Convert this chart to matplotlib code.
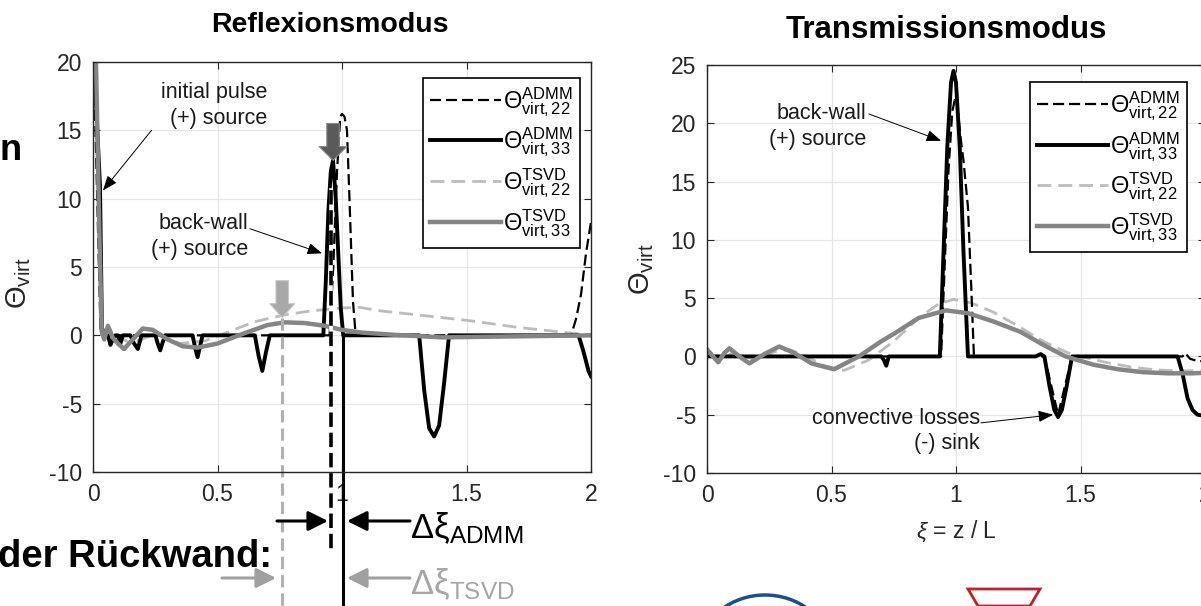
import numpy as np
import matplotlib
matplotlib.use("Agg")
import matplotlib.pyplot as plt
import matplotlib.transforms as mtransforms
from matplotlib.patches import Arc, Polygon, FancyArrowPatch

plt.rcParams['font.family'] = ['Liberation Sans', 'DejaVu Sans']
plt.rcParams['mathtext.fontset'] = 'custom'
plt.rcParams['mathtext.rm'] = 'Liberation Sans'
plt.rcParams['mathtext.it'] = 'Liberation Sans:italic'
plt.rcParams['mathtext.bf'] = 'Liberation Sans:bold'
plt.rcParams['axes.unicode_minus'] = False

# ---- Reflexionsmodus (left) ----
refl_admm33_x = [0.0, 0.004, 0.028, 0.036, 0.045, 0.06, 0.07, 0.08, 0.09, 0.10, 0.11, 0.12, 0.15, 0.165, 0.18, 0.195,
                 0.25, 0.26, 0.27, 0.28, 0.29, 0.40, 0.41, 0.42, 0.43, 0.44, 0.65, 0.665, 0.68, 0.695, 0.71,
                 0.925, 0.935, 0.945, 0.955, 0.964, 0.975, 0.985, 0.995, 1.005, 1.31, 1.33, 1.35, 1.37, 1.39, 1.41, 1.43,
                 1.95, 1.97, 1.99, 2.0]
refl_admm33_y = [20, 20, 11, 0.5, 0, 0, -0.7, -0.3, 0, 0, -0.6, 0, 0, -0.6, -1.0, 0,
                 0, -0.6, -1.1, -0.5, 0, 0, -0.9, -1.6, -0.8, 0, 0, -1.5, -2.6, -1.2, 0,
                 0, 4, 9, 12, 12.8, 10, 6, 2, 0, 0, -4, -6.8, -7.4, -6.6, -3.5, 0,
                 0, -1.2, -2.6, -3.0]
refl_admm22_x = [0.0, 0.01, 0.03, 0.04, 0.95, 0.965, 0.98, 0.993, 1.0, 1.01, 1.02, 1.03, 1.044, 1.055,
                 1.92, 1.94, 1.96, 1.98, 2.0]
refl_admm22_y = [20, 15, 0.5, 0, 0, 5, 12, 16.0, 16.2, 16.0, 15.0, 10, 2.5, 0,
                 0, 1.2, 3.0, 6.0, 8.3]
refl_tsvd22_x = [0.0, 0.01, 0.035, 0.08, 0.15, 0.25, 0.35, 0.45, 0.55, 0.65, 0.77, 0.88, 1.0, 1.07, 1.15,
                 1.3, 1.5, 1.7, 1.9, 2.0]
refl_tsvd22_y = [22, 20, 0.5, 0.2, -0.6, 0.1, -0.6, -0.4, 0.3, 1.0, 1.5, 1.8, 2.0, 2.05, 1.8,
                 1.5, 1.1, 0.6, 0.2, 0.05]
refl_tsvd33_x = [0.0, 0.005, 0.012, 0.025, 0.035, 0.045, 0.06, 0.08, 0.1, 0.125, 0.16, 0.2, 0.24, 0.3, 0.36,
                 0.42, 0.5, 0.6, 0.7, 0.77, 0.85, 0.93, 1.0, 1.08, 1.2, 1.4, 1.6, 1.8, 2.0]
refl_tsvd33_y = [22, 22, 20, 8, 0.3, -0.3, 0.7, -0.2, -0.6, -1.0, -0.3, 0.5, 0.4, -0.3, -0.8,
                 -0.9, -0.6, 0.1, 0.75, 0.95, 0.9, 0.7, 0.4, 0.2, 0.05, -0.15, -0.1, -0.05, 0.0]

# ---- Transmissionsmodus (right) ----
trans_admm33_x = [0.0, 0.70, 0.71, 0.72, 0.73, 0.935, 0.95, 0.965, 0.98, 0.99, 1.0, 1.015, 1.03, 1.048,
                  1.32, 1.34, 1.355, 1.375, 1.395, 1.41, 1.425, 1.445, 1.466, 1.89, 1.91, 1.93, 1.95, 1.97, 2.0]
trans_admm33_y = [0, 0, -0.3, -0.8, 0, 0, 9, 18, 23.5, 24.5, 23.5, 18, 9, 0,
                  0, 0.2, 0, -2.5, -4.6, -5.2, -4.6, -2.5, 0, 0, -1.5, -3.6, -4.6, -5.0, -5.1]
trans_admm22_x = [0.0, 0.94, 0.955, 0.97, 0.985, 0.995, 1.005, 1.02, 1.03, 1.048, 1.063, 1.072,
                  1.355, 1.41, 1.466, 1.91, 1.92, 1.94, 1.97, 2.0]
trans_admm22_y = [0, 0, 8, 16, 21, 22, 21.5, 18.5, 16.8, 12.8, 5, 0,
                  0, -5.0, 0, 0, 0.3, -0.2, -0.4, -0.4]
trans_tsvd22_x = [0.0, 0.03, 0.06, 0.1, 0.15, 0.2, 0.27, 0.33, 0.4, 0.47, 0.55, 0.65, 0.75, 0.85, 0.93,
                  0.99, 1.06, 1.15, 1.25, 1.35, 1.45, 1.5, 1.6, 1.7, 1.8, 1.9, 2.0]
trans_tsvd22_y = [0.3, 0.0, -0.3, 0.3, 0.0, -0.3, 0.4, 0.6, 0.0, -0.8, -1.2, -0.3, 1.3, 3.3, 4.5,
                  4.9, 4.6, 3.8, 2.6, 1.3, 0.3, 0.0, -0.5, -0.9, -1.15, -1.25, -1.2]
trans_tsvd33_x = [0.0, 0.02, 0.045, 0.07, 0.09, 0.13, 0.17, 0.23, 0.29, 0.35, 0.42, 0.51, 0.61, 0.7, 0.755,
                  0.85, 0.96, 1.05, 1.15, 1.26, 1.35, 1.44, 1.55, 1.65, 1.75, 1.85, 1.95, 2.0]
trans_tsvd33_y = [0.6, 0.1, -0.5, 0.3, 0.7, 0.0, -0.6, 0.2, 0.85, 0.3, -0.6, -1.1, 0.0, 1.3, 2.0,
                  3.3, 3.95, 3.7, 3.0, 2.1, 1.0, 0.0, -0.7, -1.1, -1.35, -1.45, -1.45, -1.4]

# back-wall positions found by the methods
xi_admm = 0.956
xi_true = 1.004
xi_tsvd = 0.76

labels = [r'$\Theta^{\rm ADMM}_{\rm virt,22}$', r'$\Theta^{\rm ADMM}_{\rm virt,33}$',
          r'$\Theta^{\rm TSVD}_{\rm virt,22}$', r'$\Theta^{\rm TSVD}_{\rm virt,33}$']

W, H = 1201, 606
fig = plt.figure(figsize=(W / 100, H / 100), dpi=100)
ax1 = fig.add_axes([93 / W, 1 - 472 / H, 498 / W, 410 / H])
ax2 = fig.add_axes([707 / W, 1 - 473 / H, 498 / W, 408 / H])

dash_blk = (5, 2.2)
dash_gry = (5, 2.5)

def draw(ax, a22, a33, t22, t33):
  ax.plot(*t22, color='#bcbcbc', lw=2.0, dashes=dash_gry, label=labels[2])
  ax.plot(*a22, color='black', lw=1.6, dashes=dash_blk, label=labels[0])
  ax.plot(*a33, color='black', lw=2.8, label=labels[1])
  ax.plot(*t33, color='#858585', lw=3.2, label=labels[3])
  ax.set_xlim(0, 2)
  ax.set_xticks([0, 0.5, 1, 1.5, 2])
  ax.set_xticklabels(['0', '0.5', '1', '1.5', '2'])
  ax.grid(True, color='#e6e6e6', lw=0.9)
  ax.tick_params(direction='in', length=5, top=True, right=True, labelsize=16.5,
                 colors='#262626', pad=8)
  for s in ax.spines.values():
    s.set_color('#262626')
    s.set_linewidth(1.0)
  ax.set_ylabel(r'$\Theta_{\rm virt}$', fontsize=21, color='#262626')
  h, l = ax.get_legend_handles_labels()
  order = [1, 2, 0, 3]
  return [h[i] for i in order], [l[i] for i in order]

h1, l1 = draw(ax1, (refl_admm22_x, refl_admm22_y), (refl_admm33_x, refl_admm33_y),
              (refl_tsvd22_x, refl_tsvd22_y), (refl_tsvd33_x, refl_tsvd33_y))
ax1.set_ylim(-10, 20)
ax1.set_yticks([-10, -5, 0, 5, 10, 15, 20])
ax1.yaxis.set_label_coords(-0.12, 0.46)

h2, l2 = draw(ax2, (trans_admm22_x, trans_admm22_y), (trans_admm33_x, trans_admm33_y),
              (trans_tsvd22_x, trans_tsvd22_y), (trans_tsvd33_x, trans_tsvd33_y))
ax2.set_ylim(-10, 25)
ax2.set_yticks([-10, -5, 0, 5, 10, 15, 20, 25])
ax2.yaxis.set_label_coords(-0.102, 0.5)
ax2.set_xlabel(r'$\xi$ = z / L', fontsize=16.5, color='#262626', labelpad=8)

for ax, h, l, anchor in [(ax1, h1, l1, (0.978, 0.961)), (ax2, h2, l2, (0.964, 0.958))]:
  leg = ax.legend(h, l, loc='upper right', bbox_to_anchor=anchor, fontsize=17,
                  handlelength=3.0, handletextpad=0.1, labelspacing=0.3,
                  borderpad=0.3, borderaxespad=0, fancybox=False, framealpha=1)
  leg.get_frame().set_edgecolor('black')
  leg.get_frame().set_linewidth(1.2)

fig.text(330 / W, 1 - 25 / H, 'Reflexionsmodus', fontsize=20.5, fontweight='bold',
         ha='center', va='center')
fig.text(946 / W, 1 - 30 / H, 'Transmissionsmodus', fontsize=22.5, fontweight='bold',
         ha='center', va='center')

# annotations
arr = dict(arrowstyle='-|>,head_length=0.9,head_width=0.35', color='black', lw=0.7,
           shrinkA=0, shrinkB=0)
txt = dict(fontsize=15.5, ha='right', va='bottom', linespacing=1.3, color='#1a1a1a')
ax1.annotate('initial pulse\n(+) source', xy=(0.7, 15.1), **txt)
ax1.annotate('', xy=(0.04, 10.6), xytext=(0.235, 15.0), arrowprops=arr)
ax1.annotate('back-wall\n(+) source', xy=(0.625, 5.5), **txt)
ax1.annotate('', xy=(0.92, 6.0), xytext=(0.63, 7.8), arrowprops=arr)
ax2.annotate('back-wall\n(+) source', xy=(0.64, 17.7), **txt)
ax2.annotate('', xy=(0.94, 18.5), xytext=(0.65, 20.8), arrowprops=arr)
ax2.annotate('convective losses\n(-) sink', xy=(1.095, -8.4), **txt)
ax2.annotate('', xy=(1.39, -5.0), xytext=(1.1, -5.7), arrowprops=arr)

# block arrows over the peaks
ax1.annotate('', xy=(xi_admm + 0.008, 12.8), xytext=(xi_admm + 0.008, 15.5),
             arrowprops=dict(arrowstyle='simple,head_length=10,head_width=20,tail_width=9',
                             mutation_scale=1, fc='#5a5a5a', ec='#8a8a8a', lw=0.8,
                             shrinkA=0, shrinkB=0))
ax1.annotate('', xy=(xi_tsvd, 1.3), xytext=(xi_tsvd, 4.0),
             arrowprops=dict(arrowstyle='simple,head_length=10,head_width=18,tail_width=9',
                             mutation_scale=1, fc='#a8a8a8', ec='#c8c8c8', lw=0.8,
                             shrinkA=0, shrinkB=0))

# vertical markers running out of the axes
bt = mtransforms.blended_transform_factory(ax1.transData, fig.transFigure)
ax1.plot([xi_admm, xi_admm], [1 - 190 / H, 1 - 552 / H], color='white', lw=2.6,
         transform=bt, clip_on=False)
ax1.plot([xi_admm, xi_admm], [1 - 190 / H, 1 - 552 / H], color='black', lw=2.6,
         dashes=(4, 1.6), transform=bt, clip_on=False)
ax1.plot([xi_true, xi_true], [1 - 335 / H, 0], color='black', lw=2.2,
         transform=bt, clip_on=False)
ax1.plot([xi_tsvd, xi_tsvd], [1 - 318 / H, 0], color='#b0b0b0', lw=2.2, dashes=(4, 2),
         transform=bt, clip_on=False)

def harrow(x0, x1, y, color):
  fig.add_artist(FancyArrowPatch(
      (x0, H - y), (x1, H - y), transform=None, arrowstyle='-|>,head_length=12,head_width=6',
      mutation_scale=1, color=color, lw=2.2, shrinkA=0, shrinkB=0))

harrow(277, 328, 521, 'black')
harrow(410, 347, 521, 'black')
harrow(222, 276, 578, '#a0a0a0')
harrow(410, 347, 578, '#a0a0a0')

fig.text(410 / W, 1 - 528 / H, r'Δξ$_{\rm ADMM}$', fontsize=25, color='black',
         ha='left', va='center')
fig.text(410 / W, 1 - 584 / H, r'Δξ$_{\rm TSVD}$', fontsize=25, color='#a6a6a6',
         ha='left', va='center')

fig.text(272 / W, 1 - 557 / H, 'der Rückwand:', fontsize=27.5, fontweight='bold',
         ha='right', va='center')
fig.text(0, 1 - 150 / H, 'n', fontsize=26, fontweight='bold', ha='left', va='center')

# logos at the bottom
fig.add_artist(Arc((765 / W, 1 - 655 / H), 134 / W, 120 / H, theta1=15, theta2=165,
                   transform=fig.transFigure, color='#1f4e8c', lw=2.5))
fig.add_artist(Polygon([(968 / W, 1 - 589 / H), (1040 / W, 1 - 589 / H), (1030 / W, 0),
                        (978 / W, 0)], closed=True, fill=False, ec='#c0202a', lw=2,
                       transform=fig.transFigure))

fig.savefig('out.png', dpi=100)
